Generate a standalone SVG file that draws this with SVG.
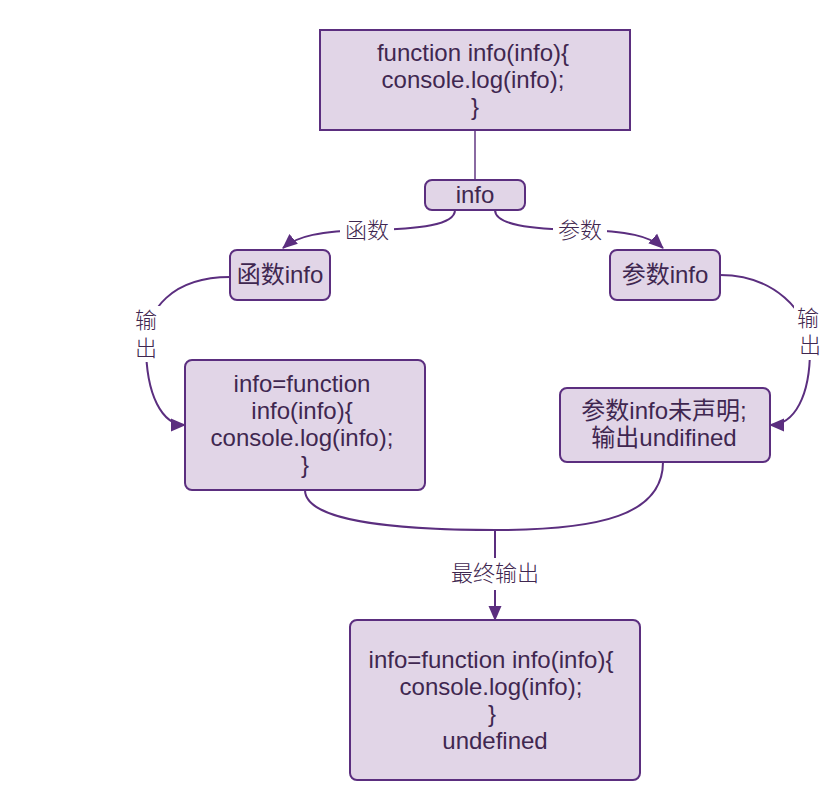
<svg xmlns="http://www.w3.org/2000/svg" width="840" height="800" viewBox="0 0 840 800">
<style>
.box{fill:#e1d5e7;stroke:#5b2e7f;stroke-width:2}
.t{font-family:"Liberation Sans",Arial,"Noto Sans CJK SC",sans-serif;font-size:24px;fill:#3f2750;text-anchor:middle}
.lbl{font-family:"Liberation Sans","Noto Sans CJK SC",sans-serif;font-size:22px;font-weight:300;fill:#3f2750;text-anchor:middle}
.c{fill:none;stroke:#5b2e7f;stroke-width:2}
.bg{fill:#ffffff}
</style>
<defs>
<marker id="arr" markerUnits="userSpaceOnUse" markerWidth="16" markerHeight="16" viewBox="0 0 16 16" refX="14" refY="8" orient="auto">
<path d="M0,1.5 L15,8 L0,14.5 Z" fill="#5b2e7f"/>
</marker>
</defs>
<g id="connectors">
<path d="M475,130 L475,180" style="fill:none;stroke:#8a6aa2;stroke-width:2"/>
<path class="c" d="M455,210 C455,225 420,229 368,230 C320,231 297,236 283,248" marker-end="url(#arr)"/>
<path class="c" d="M495,210 C495,225 530,229 580,230 C628,231 650,236 663,248" marker-end="url(#arr)"/>
<path class="c" d="M230,277 C172,277 146,310 146,345 C146,395 162,425 185,425" marker-end="url(#arr)"/>
<path class="c" d="M720,275 C772,275 810,310 810,350 C810,395 795,425 770,425" marker-end="url(#arr)"/>
<path class="c" d="M305,490 C305,520 390,530 495,530 C600,530 663,515 663,462"/>
<path class="c" d="M495,530 L495,620" marker-end="url(#arr)"/>
<rect class="bg" x="340" y="216" width="54" height="28"/>
<text class="lbl" x="367" y="238">函数</text>
<rect class="bg" x="553" y="216" width="54" height="28"/>
<text class="lbl" x="580" y="238">参数</text>
<rect class="bg" x="132" y="306" width="30" height="56"/>
<text class="lbl" x="146" y="328">输</text>
<text class="lbl" x="146" y="356">出</text>
<rect class="bg" x="794" y="304" width="32" height="56"/>
<text class="lbl" x="808" y="326">输</text>
<text class="lbl" x="810" y="353">出</text>
<rect class="bg" x="443" y="558" width="104" height="32"/>
<text class="lbl" x="495" y="581">最终输出</text>
</g>
<g id="top">
<rect class="box" x="320" y="30" width="310" height="100"/>
<text class="t" x="473" y="61">function info(info){</text>
<text class="t" x="473" y="88">console.log(info);</text>
<text class="t" x="475" y="115">}</text>
</g>
<g id="info">
<rect class="box" x="425" y="180" width="100" height="30" rx="7"/>
<text class="t" x="475" y="203">info</text>
</g>
<g id="func-info">
<rect class="box" x="230" y="250" width="100" height="50" rx="7"/>
<text class="t" x="280" y="283">函数info</text>
</g>
<g id="param-info">
<rect class="box" x="610" y="250" width="110" height="50" rx="7"/>
<text class="t" x="665" y="283">参数info</text>
</g>
<g id="left-result">
<rect class="box" x="185" y="360" width="240" height="130" rx="7"/>
<text class="t" x="302" y="392">info=function</text>
<text class="t" x="302" y="419">info(info){</text>
<text class="t" x="302" y="446">console.log(info);</text>
<text class="t" x="305" y="473">}</text>
</g>
<g id="right-result">
<rect class="box" x="560" y="388" width="210" height="74" rx="7"/>
<text class="t" x="664" y="419">参数info未声明;</text>
<text class="t" x="664" y="446">输出undifined</text>
</g>
<g id="final">
<rect class="box" x="350" y="620" width="290" height="160" rx="7"/>
<text class="t" x="491" y="668">info=function info(info){</text>
<text class="t" x="491" y="695">console.log(info);</text>
<text class="t" x="492" y="722">}</text>
<text class="t" x="495" y="749">undefined</text>
</g>
</svg>
